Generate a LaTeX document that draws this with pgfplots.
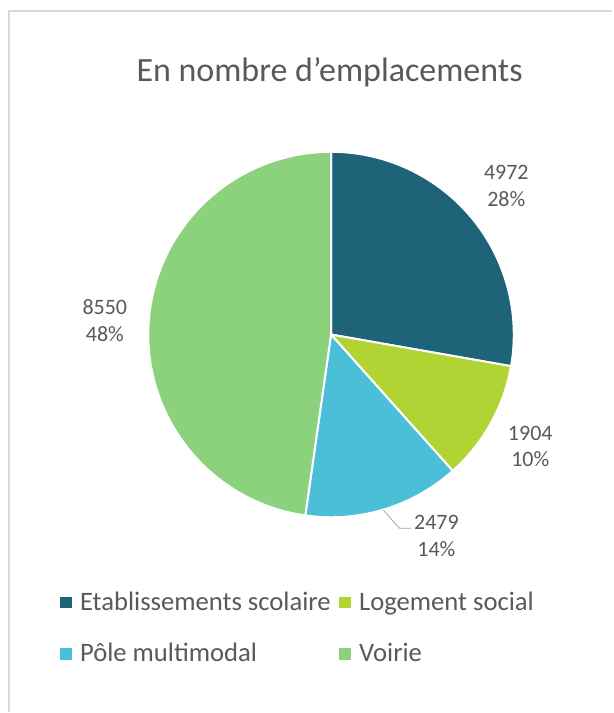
\documentclass[border=0pt]{standalone}
\usepackage{pgfplots}
\pgfplotsset{compat=1.18}
\usepackage{pgfplotstable}
\usepackage{fontspec}
\setmainfont{Carlito}

\definecolor{cA}{HTML}{1F6378}
\definecolor{cB}{HTML}{B0D434}
\definecolor{cC}{HTML}{4BBED8}
\definecolor{cD}{HTML}{8CD27D}
\definecolor{txt}{HTML}{595959}
\definecolor{framegray}{HTML}{D9D9D9}

% values of the pie, clockwise from the top
\pgfplotstableread{
name value pct
Etablissements 4972 28
Logement 1904 10
Pole 2479 14
Voirie 8550 48
}\piedata

\pgfplotstablegetelem{0}{value}\of\piedata \let\vA\pgfplotsretval
\pgfplotstablegetelem{1}{value}\of\piedata \let\vB\pgfplotsretval
\pgfplotstablegetelem{2}{value}\of\piedata \let\vC\pgfplotsretval
\pgfplotstablegetelem{3}{value}\of\piedata \let\vD\pgfplotsretval
\pgfplotstablegetelem{0}{pct}\of\piedata \let\pA\pgfplotsretval
\pgfplotstablegetelem{1}{pct}\of\piedata \let\pB\pgfplotsretval
\pgfplotstablegetelem{2}{pct}\of\piedata \let\pC\pgfplotsretval
\pgfplotstablegetelem{3}{pct}\of\piedata \let\pD\pgfplotsretval

% work in thousands to stay inside TeX's dimension range
\pgfmathsetmacro\total{\vA/1000+\vB/1000+\vC/1000+\vD/1000}
\pgfmathsetmacro\aA{90-360*(\vA/1000)/\total}
\pgfmathsetmacro\aB{\aA-360*(\vB/1000)/\total}
\pgfmathsetmacro\aC{\aB-360*(\vC/1000)/\total}
\pgfmathsetmacro\aD{\aC-360*(\vD/1000)/\total}

% pie geometry in pixel units (1 unit = 0.75pt)
\def\cx{331.5}
\def\cy{335}
\def\r{183}
\def\rpt{137.25pt}

\newcommand{\slice}[3]{%
  \fill[#3, draw=white, line width=1.5pt, line join=round]
    (axis cs:\cx,\cy) -- (axis cs:{\cx+\r*cos(#1)},{\cy-\r*sin(#1)})
    arc[start angle=#1, end angle=#2, radius=\rpt] -- cycle;}

\newcommand{\labfont}{\fontsize{16.5}{20}\selectfont}

\begin{document}
\begin{tikzpicture}
\begin{axis}[
    x=0.75pt, y=0.75pt,
    xmin=0, xmax=613, ymin=0, ymax=713,
    y dir=reverse,
    hide axis,
    scale only axis,
    clip=false,
    legend columns=2,
    legend cell align=left,
    legend image code/.code={\fill[#1] (0pt,-4pt) rectangle (8pt,4pt);},
    legend style={
        at={(axis cs:56,588)}, anchor=north west,
        draw=none, fill=none,
        text=txt,
        font=\fontsize{20}{23}\selectfont,
        row sep=20pt,
        nodes={inner sep=1.5pt},
        /tikz/every odd column/.append style={column sep=5pt},
        /tikz/every even column/.append style={column sep=5pt},
    },
]
\path (axis cs:0,0) rectangle (axis cs:613,713);
\draw[framegray, line width=1.5pt] (axis cs:9,713) -- (axis cs:9,11) -- (axis cs:613,11);

\node[text=txt, font=\fontsize{25.5}{30}\selectfont] at (axis cs:330,72) {En nombre d’emplacements};

\slice{90}{\aA}{cA}
\slice{\aA}{\aB}{cB}
\slice{\aB}{\aC}{cC}
\slice{\aC}{\aD}{cD}

\draw[black!35, line width=0.6pt] (axis cs:384,511) -- (axis cs:400,529) -- (axis cs:412,529);

\node[align=center, text=txt, font=\labfont] at (axis cs:507,186) {\vA\\\pA\%};
\node[align=center, text=txt, font=\labfont] at (axis cs:531,447) {\vB\\\pB\%};
\node[align=center, text=txt, font=\labfont] at (axis cs:437,537) {\vC\\\pC\%};
\node[align=center, text=txt, font=\labfont] at (axis cs:105,321) {\vD\\\pD\%};

\addlegendimage{cA}
\addlegendentry{Etablissements scolaire}
\addlegendimage{cB}
\addlegendentry{Logement social}
\addlegendimage{cC}
\addlegendentry{Pôle multimodal}
\addlegendimage{cD}
\addlegendentry{Voirie}
\end{axis}
\end{tikzpicture}
\end{document}
